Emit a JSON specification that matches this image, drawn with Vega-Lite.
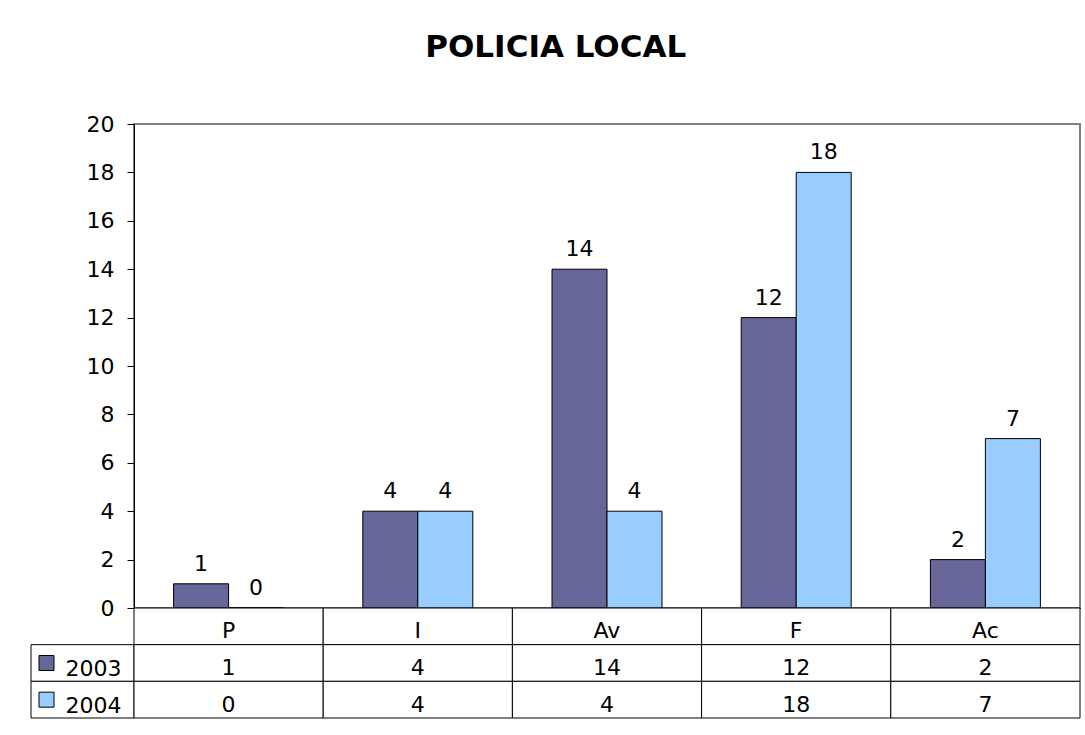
{
  "$schema": "https://vega.github.io/schema/vega-lite/v6.json",
  "autosize": {"type": "pad"},
  "padding": {"left": 30, "top": 32, "right": 6, "bottom": 17},
  "background": "white",
  "title": {"text": "POLICIA LOCAL", "font": "DejaVu Sans", "fontSize": 31, "fontWeight": "bold", "color": "black", "anchor": "middle", "offset": 48},
  "datasets": {
    "bars": [
      {"cat": "P", "series": "2003", "value": 1},
      {"cat": "P", "series": "2004", "value": 0},
      {"cat": "I", "series": "2003", "value": 4},
      {"cat": "I", "series": "2004", "value": 4},
      {"cat": "Av", "series": "2003", "value": 14},
      {"cat": "Av", "series": "2004", "value": 4},
      {"cat": "F", "series": "2003", "value": 12},
      {"cat": "F", "series": "2004", "value": 18},
      {"cat": "Ac", "series": "2003", "value": 2},
      {"cat": "Ac", "series": "2004", "value": 7}
    ],
    "table": [
      {"cat": "P", "row": "cat", "label": "P"},
      {"cat": "I", "row": "cat", "label": "I"},
      {"cat": "Av", "row": "cat", "label": "Av"},
      {"cat": "F", "row": "cat", "label": "F"},
      {"cat": "Ac", "row": "cat", "label": "Ac"},
      {"cat": "P", "row": "2003", "label": "1"},
      {"cat": "I", "row": "2003", "label": "4"},
      {"cat": "Av", "row": "2003", "label": "14"},
      {"cat": "F", "row": "2003", "label": "12"},
      {"cat": "Ac", "row": "2003", "label": "2"},
      {"cat": "P", "row": "2004", "label": "0"},
      {"cat": "I", "row": "2004", "label": "4"},
      {"cat": "Av", "row": "2004", "label": "4"},
      {"cat": "F", "row": "2004", "label": "18"},
      {"cat": "Ac", "row": "2004", "label": "7"}
    ],
    "series": [
      {"row": "2003", "label": "2003"},
      {"row": "2004", "label": "2004"}
    ],
    "blank": [{"t": ""}]
  },
  "columns": 2,
  "spacing": 0,
  "bounds": "flush",
  "concat": [
    {
      "width": 103,
      "height": 484,
      "data": {"name": "blank"},
      "mark": {"type": "text"},
      "encoding": {"text": {"field": "t"}}
    },
    {
      "width": 946,
      "height": 484,
      "view": {"stroke": "#808080", "strokeWidth": 2},
      "data": {"name": "bars"},
      "encoding": {
        "x": {"field": "cat", "type": "nominal", "sort": ["P", "I", "Av", "F", "Ac"],
              "scale": {"domain": ["P", "I", "Av", "F", "Ac"], "paddingInner": 0, "paddingOuter": 0},
              "axis": {"labels": false, "ticks": false, "title": null, "domainColor": "black", "domainWidth": 1}},
        "xOffset": {"field": "series", "type": "nominal", "scale": {"domain": ["2003", "2004"], "paddingInner": 0, "paddingOuter": 0.72}},
        "y": {"field": "value", "type": "quantitative",
              "scale": {"domain": [0, 20], "nice": false, "zero": true},
              "axis": {"values": [0, 2, 4, 6, 8, 10, 12, 14, 16, 18, 20], "title": null, "grid": false,
                       "tickSize": 7, "tickColor": "black", "domainColor": "black", "labelPadding": 13,
                       "labelFont": "DejaVu Sans", "labelFontSize": 22, "labelColor": "black"}}
      },
      "layer": [
        {
          "mark": {"type": "bar", "stroke": "black", "strokeWidth": 1},
          "encoding": {
            "color": {"field": "series", "type": "nominal", "scale": {"domain": ["2003", "2004"], "range": ["#666699", "#99CCFF"]}, "legend": null}
          }
        },
        {
          "mark": {"type": "text", "font": "DejaVu Sans", "fontSize": 22, "fill": "black", "baseline": "alphabetic", "dy": -13},
          "encoding": {"text": {"field": "value", "type": "quantitative"}}
        }
      ]
    },
    {
      "width": 103,
      "height": 110,
      "data": {"name": "series"},
      "encoding": {
        "y": {"field": "row", "type": "nominal", "scale": {"domain": ["cat", "2003", "2004"], "paddingInner": 0, "paddingOuter": 0}, "axis": null}
      },
      "layer": [
        {
          "mark": {"type": "rect", "fill": "white", "stroke": "black", "strokeWidth": 1}
        },
        {
          "mark": {"type": "point", "shape": "square", "size": 225, "filled": true, "stroke": "black", "strokeWidth": 1, "opacity": 1, "dy": 4},
          "encoding": {
            "x": {"datum": "sw", "type": "nominal", "scale": {"type": "point", "domain": ["sw", "tx"], "padding": 0.215}, "axis": null},
            "color": {"field": "row", "type": "nominal", "scale": {"domain": ["2003", "2004"], "range": ["#666699", "#99CCFF"]}, "legend": null}
          }
        },
        {
          "mark": {"type": "text", "font": "DejaVu Sans", "fontSize": 22, "fill": "black", "align": "right", "dx": 3, "dy": 6},
          "encoding": {
            "x": {"datum": "tx", "type": "nominal", "axis": null},
            "text": {"field": "label"}
          }
        }
      ]
    },
    {
      "width": 946,
      "height": 110,
      "data": {"name": "table"},
      "encoding": {
        "x": {"field": "cat", "type": "nominal", "scale": {"domain": ["P", "I", "Av", "F", "Ac"], "paddingInner": 0, "paddingOuter": 0}, "axis": null},
        "y": {"field": "row", "type": "nominal", "scale": {"domain": ["cat", "2003", "2004"], "paddingInner": 0, "paddingOuter": 0}, "axis": null}
      },
      "layer": [
        {"mark": {"type": "rect", "fill": "white", "stroke": "black", "strokeWidth": 1}},
        {
          "mark": {"type": "text", "font": "DejaVu Sans", "fontSize": 22, "fill": "black", "dy": 5},
          "encoding": {"text": {"field": "label"}}
        }
      ]
    }
  ],
  "config": {
    "view": {"stroke": null},
    "axis": {"labelFont": "DejaVu Sans", "labelColor": "black"}
  }
}
